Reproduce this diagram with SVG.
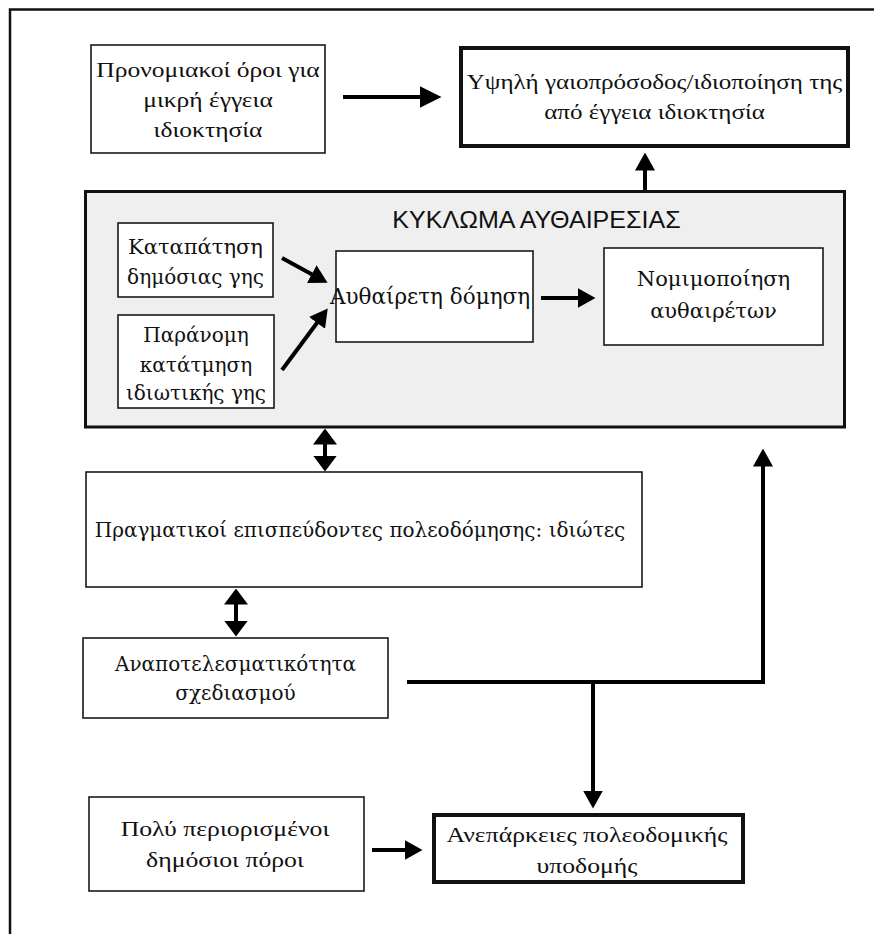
<svg xmlns="http://www.w3.org/2000/svg" width="874" height="934" viewBox="0 0 874 934">
<defs>
<style>
.bg{fill:#ffffff}
.box{fill:#ffffff;stroke:#1a1a1a;stroke-width:1.6}
.thick{fill:#ffffff;stroke:#111;stroke-width:4}
.big{fill:#efefef;stroke:#111;stroke-width:3}
.tr{font-family:"Liberation Serif","Times New Roman",serif;font-size:22px;fill:#111;text-anchor:middle}
.dv{font-family:"DejaVu Serif",serif;font-size:20px;fill:#111;text-anchor:middle}
.title{font-family:"Liberation Sans",Arial,sans-serif;font-size:23px;fill:#111;text-anchor:middle}
.con{fill:none;stroke:#000;stroke-width:4}
</style>
<marker id="ah" viewBox="0 0 22 22" refX="0.5" refY="11" markerWidth="22" markerHeight="22" markerUnits="userSpaceOnUse" orient="auto"><path d="M0,0 L22,11 L0,22 z" fill="#000"/></marker>
<marker id="ahs" viewBox="0 0 18 20" refX="0.5" refY="10" markerWidth="18" markerHeight="20" markerUnits="userSpaceOnUse" orient="auto"><path d="M0,0 L18,10 L0,20 z" fill="#000"/></marker>
<marker id="ahd" viewBox="0 0 16 24" refX="0.5" refY="12" markerWidth="16" markerHeight="24" markerUnits="userSpaceOnUse" orient="auto-start-reverse"><path d="M0,0 L16,12 L0,24 z" fill="#000"/></marker>
</defs>
<rect class="bg" x="0" y="0" width="874" height="934"/>
<path d="M10,940 V9.5 H880" fill="none" stroke="#111" stroke-width="2.5"/>

<g id="n-pronomiakoi">
<rect class="box" x="91" y="45" width="234" height="108"/>
<g transform="translate(208 0) scale(1.16 1)">
<text class="tr" x="0" y="77">Προνομιακοί όροι για</text>
<text class="tr" x="0" y="107">μικρή έγγεια</text>
<text class="tr" x="0" y="137">ιδιοκτησία</text>
</g>
</g>

<g id="n-ypsili">
<rect class="thick" x="461" y="48" width="387" height="98"/>
<g transform="translate(654.5 0) scale(1.14 1)">
<text class="tr" x="0" y="89">Υψηλή γαιοπρόσοδος/ιδιοποίηση της</text>
<text class="tr" x="0" y="119">από έγγεια ιδιοκτησία</text>
</g>
</g>

<g id="n-kykloma">
<rect class="big" x="85.5" y="191.5" width="759" height="235.5"/>
<g transform="translate(536.5 0) scale(1.09 1)">
<text class="title" x="0" y="228">ΚΥΚΛΩΜΑ ΑΥΘΑΙΡΕΣΙΑΣ</text>
</g>
</g>

<g id="n-katapatisi">
<rect class="box" x="118" y="223" width="155" height="74"/>
<text class="dv" x="195.5" y="254" style="font-size:21px">Καταπάτηση</text>
<text class="dv" x="195.5" y="284">δημόσιας γης</text>
</g>

<g id="n-paranomi">
<rect class="box" x="118" y="315" width="156" height="93"/>
<text class="dv" x="196" y="342">Παράνομη</text>
<text class="dv" x="196" y="372">κατάτμηση</text>
<text class="dv" x="196" y="400">ιδιωτικής γης</text>
</g>

<g id="n-afthaireti">
<rect class="box" x="336" y="251" width="197" height="91"/>
<text class="dv" x="430" y="304" style="font-size:21.5px">Αυθαίρετη δόμηση</text>
</g>

<g id="n-nomimopoiisi">
<rect class="box" x="604" y="248" width="219" height="97"/>
<text class="dv" x="713.5" y="286" style="font-size:21px">Νομιμοποίηση</text>
<text class="dv" x="713.5" y="318" style="font-size:21px">αυθαιρέτων</text>
</g>

<g id="n-pragmatikoi">
<rect class="box" x="86" y="472" width="556" height="115"/>
<text class="dv" x="360" y="537">Πραγματικοί επισπεύδοντες πολεοδόμησης: ιδιώτες</text>
</g>

<g id="n-anapotelesmatikotita">
<rect class="box" x="83" y="638" width="305" height="80"/>
<text class="dv" x="235.5" y="671">Αναποτελεσματικότητα</text>
<text class="dv" x="235.5" y="700">σχεδιασμού</text>
</g>

<g id="n-poly">
<rect class="box" x="89" y="797" width="275" height="94"/>
<g transform="translate(225 0) scale(1.17 1)">
<text class="tr" x="0" y="836">Πολύ περιορισμένοι</text>
<text class="tr" x="0" y="867">δημόσιοι πόροι</text>
</g>
</g>

<g id="n-aneparkeies">
<rect class="thick" x="434" y="815" width="309" height="67"/>
<g transform="translate(587 0) scale(1.17 1)">
<text class="tr" x="0" y="842">Ανεπάρκειες πολεοδομικής</text>
<text class="tr" x="0" y="873">υποδομής</text>
</g>
</g>

<g id="connectors">
<line class="con" x1="343" y1="97" x2="420" y2="97" marker-end="url(#ah)"/>
<line class="con" x1="645" y1="190" x2="645" y2="170" marker-end="url(#ahs)"/>
<line class="con" x1="282" y1="258" x2="312.2" y2="274.4" marker-end="url(#ahs)"/>
<line class="con" x1="282" y1="370" x2="317.3" y2="322.5" marker-end="url(#ahs)"/>
<line class="con" x1="541" y1="298" x2="578" y2="298" marker-end="url(#ahs)"/>
<line class="con" x1="325" y1="444" x2="325" y2="456" marker-start="url(#ahd)" marker-end="url(#ahd)"/>
<line class="con" x1="236" y1="604" x2="236" y2="621" marker-start="url(#ahd)" marker-end="url(#ahd)"/>
<polyline class="con" points="407,682 763,682 763,466" marker-end="url(#ahs)"/>
<line class="con" x1="593" y1="682" x2="593" y2="791" marker-end="url(#ahs)"/>
<line class="con" x1="372" y1="850" x2="405" y2="850" marker-end="url(#ahs)"/>
</g>
</svg>
